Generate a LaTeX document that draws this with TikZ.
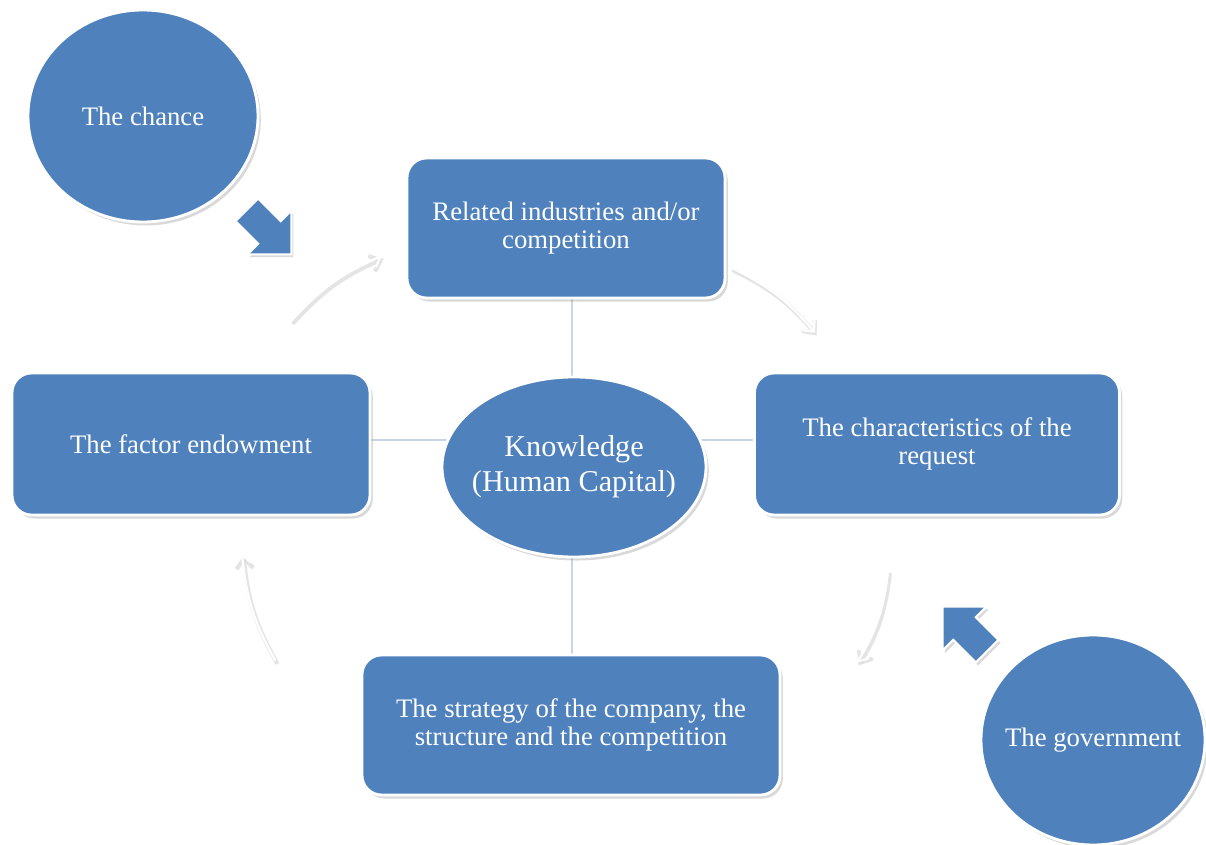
\documentclass[tikz,border=0pt]{standalone}
\usepackage{fontspec}
\setmainfont{Liberation Serif}
\usetikzlibrary{shadows,arrows.meta,shapes.geometric,backgrounds}
\definecolor{officeblue}{HTML}{4F81BD}
\definecolor{linkblue}{HTML}{C9D5E8}
\tikzset{
  bluebox/.style={draw=white, line width=2pt, fill=officeblue, rounded corners=14pt,
    text=white, align=center, font=\fontsize{19}{20}\selectfont,
    drop shadow={shadow xshift=2pt, shadow yshift=-2.5pt, opacity=0.3, fill=gray}},
  blueell/.style={ellipse, draw=white, line width=2pt, fill=officeblue, inner sep=0pt,
    drop shadow={shadow xshift=2pt, shadow yshift=-2.5pt, opacity=0.3, fill=gray}},
  elltext/.style={text=white, align=center, font=\fontsize{19}{20}\selectfont},
  link/.style={draw=linkblue, line width=1.3pt},
  cyclearrowshadow/.style={draw=gray!35, line width=3pt, opacity=0.6, line cap=round,
    -{Straight Barb[length=7pt,width=12pt,line width=3pt]}},
  cyclearrow/.style={draw=white, line width=1.6pt, line cap=round,
    -{Straight Barb[length=6pt,width=11pt]}},
  blockarrow/.style={fill=officeblue, draw=white, line width=1.5pt, line join=miter,
    drop shadow={shadow xshift=1.5pt, shadow yshift=-2pt, opacity=0.3, fill=gray}},
}
\begin{document}
\begin{tikzpicture}[x=0.025cm, y=-0.025cm]
\useasboundingbox (0,0) rectangle (1206,845);
\clip (0,0) rectangle (1206,845);

% boxes
\node[bluebox, minimum width=318*0.025cm, minimum height=140*0.025cm] (rel) at (566,228)
  {Related industries and/or\\competition};
\node[bluebox, minimum width=365*0.025cm, minimum height=142*0.025cm] (req) at (937,444)
  {The characteristics of the\\request};
\node[bluebox, minimum width=358*0.025cm, minimum height=142*0.025cm] (fac) at (191,444)
  {The factor endowment};
\node[bluebox, minimum width=418*0.025cm, minimum height=140*0.025cm] (str) at (571,725)
  {The strategy of the company, the\\structure and the competition};

% center ellipse
\node[blueell, minimum width=264*0.025cm, minimum height=180*0.025cm] (kn) at (574,467) {};
\node[elltext, font=\fontsize{21.5}{25}\selectfont] (knt) at (kn.center) {Knowledge\\(Human Capital)};

% connectors (behind)
\begin{pgfonlayer}{background}
\coordinate (vx) at (572,0);
\coordinate (hy) at (0,440);
\draw[link] (vx |- rel.south) -- (vx |- str.north);
\draw[link] (fac.east |- hy) -- (req.west |- hy);
\end{pgfonlayer}

% outer circles
\node[blueell, minimum width=230*0.025cm, minimum height=212*0.025cm] (chance) at (143,116) {};
\node[elltext] (chancet) at (chance.center) {The chance};
\node[blueell, minimum width=224*0.025cm, minimum height=210*0.025cm] (gov) at (1093,740) {};
\node[elltext] (govt) at (gov.center) {The government};

% block arrows
\begin{scope}[shift={(268,231)}, rotate=-45]
  \draw[blockarrow] (-30,-16) -- (2,-16) -- (2,-31) -- (33,0) -- (2,31) -- (2,16) -- (-30,16) -- cycle;
\end{scope}
\begin{scope}[shift={(966,630)}, rotate=135]
  \draw[blockarrow] (-30,-16) -- (2,-16) -- (2,-31) -- (33,0) -- (2,31) -- (2,16) -- (-30,16) -- cycle;
\end{scope}

% cycle arrows
\coordinate (a1s) at (292,320); \coordinate (a1e) at (382,256);
\coordinate (a2s) at (732,268); \coordinate (a2e) at (815,333);
\coordinate (a3s) at (888,572); \coordinate (a3e) at (857,663);
\coordinate (a4s) at (275,660); \coordinate (a4e) at (242,553);
\foreach \s/\e in {a1s/a1e, a2s/a2e, a3s/a3e, a4s/a4e}{
  \draw[cyclearrowshadow, transform canvas={shift={(1.2pt,-1.8pt)}}] (\s) to[bend left=12] (\e);
  \draw[cyclearrow] (\s) to[bend left=12] (\e);
}
\end{tikzpicture}
\end{document}
